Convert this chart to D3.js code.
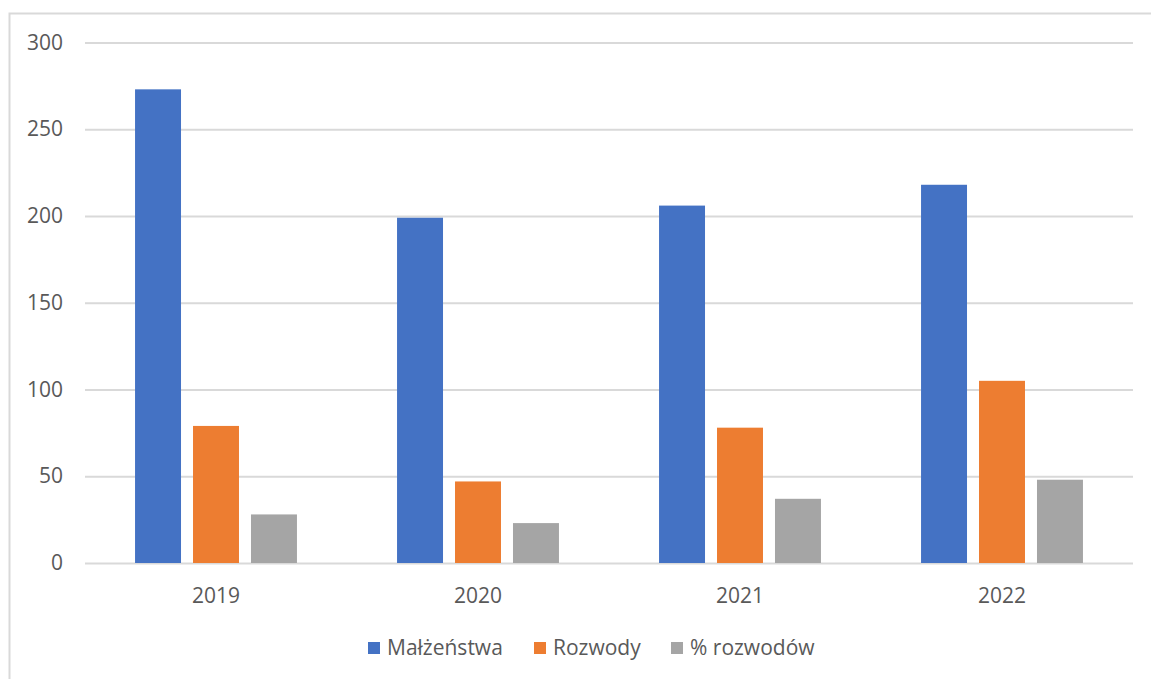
<!DOCTYPE html>
<html><head><meta charset="utf-8">
<script src="https://cdn.jsdelivr.net/npm/d3@7"></script>
<style>html,body{margin:0;padding:0;background:#fff;}svg{display:block;}text{font-family:"Open Sans",sans-serif;}</style>
</head><body>
<script>
const categories = ["2019","2020","2021","2022"];
const seriesNames = ["Małżeństwa","Rozwody","% rozwodów"];
const malzenstwa = [273, 199, 206, 218];
const rozwody = [79, 47, 78, 105];
const procentRozwodow = [28, 23, 37, 48];
const yTicks = [0,50,100,150,200,250,300];
const colors = ["#4472C4","#ED7D31","#A5A5A5"];

(function(){
const W = 1151, H = 679;
const svg = d3.select("body").append("svg").attr("width", W).attr("height", H);
// chart border
svg.append("path").attr("d", `M9.5,${H} V13.5 H${W}`).attr("fill","none").attr("stroke","#d9d9d9").attr("stroke-width",2);

const pLeft = 85, pRight = 1133, pTop = 42.5, pBottom = 563;
const y = d3.scaleLinear().domain([0,300]).range([pBottom, pTop]);
const x0 = d3.scaleBand().domain(categories).range([pLeft, pRight]).paddingInner(0.382).paddingOuter(0.191);
const x1 = d3.scaleBand().domain(seriesNames).range([0, x0.bandwidth()]).paddingInner(0.207);

// gridlines
const yAxis = d3.axisLeft(y).tickValues(yTicks).tickSize(-(pRight-pLeft)).tickPadding(22);
const gy = svg.append("g").attr("transform", `translate(${pLeft},0)`).call(yAxis);
gy.select(".domain").remove();
gy.selectAll(".tick line").attr("stroke","#d9d9d9").attr("stroke-width",2);
gy.selectAll(".tick text").attr("fill","#595959").style("font-size","21px");

const data = categories.map((c,i)=>({cat:c, vals:[malzenstwa[i], rozwody[i], procentRozwodow[i]]}));
const g = svg.append("g");
data.forEach(d=>{
  d.vals.forEach((v,j)=>{
    g.append("rect")
      .attr("x", x0(d.cat) + x1(seriesNames[j]))
      .attr("width", x1.bandwidth())
      .attr("y", y(v))
      .attr("height", y(0)-y(v))
      .attr("fill", colors[j]);
  });
});

const xAxis = d3.axisBottom(x0).tickSize(0).tickPadding(25);
const gx = svg.append("g").attr("transform", `translate(0,${pBottom})`).call(xAxis);
gx.select(".domain").remove();
gx.selectAll(".tick text").attr("fill","#595959").style("font-size","21px");

// legend
const legendX = [368, 534, 671];
const lg = svg.append("g");
seriesNames.forEach((s,j)=>{
  lg.append("rect").attr("x", legendX[j]).attr("y", 642).attr("width", 12).attr("height", 12).attr("fill", colors[j]);
  lg.append("text").attr("x", legendX[j]+19).attr("y", 655).attr("fill","#595959").style("font-size","21px").text(s);
});
})();
</script>
</body></html>
